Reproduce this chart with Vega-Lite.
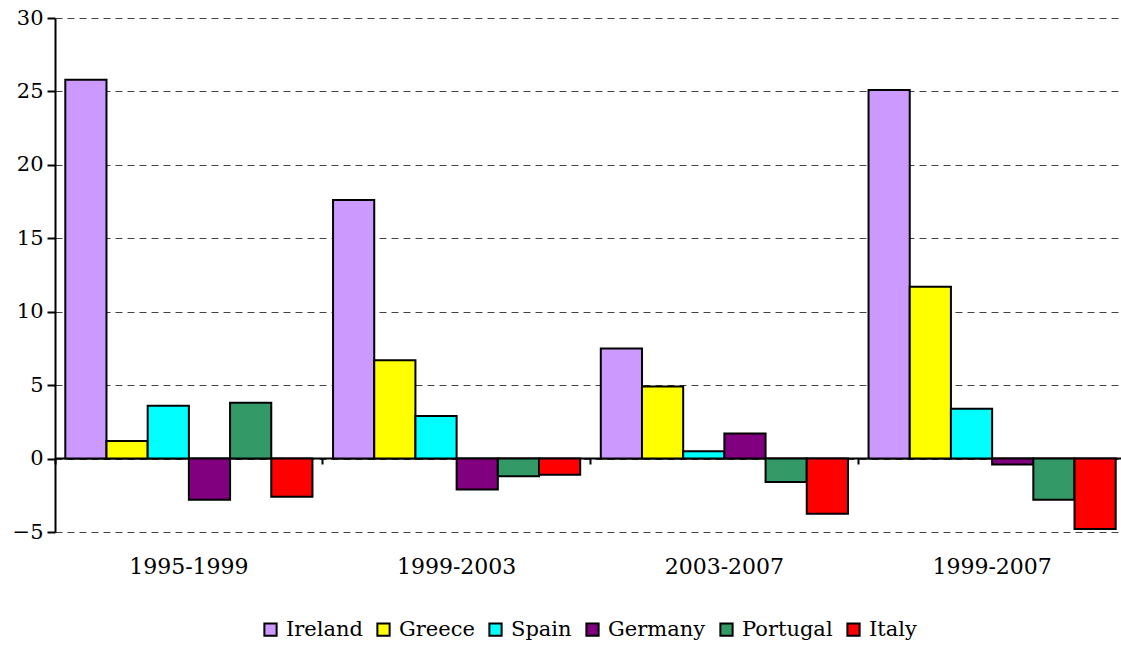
{
  "$schema": "https://vega.github.io/schema/vega-lite/v6.json",
  "autosize": "none",
  "width": 1071,
  "height": 514,
  "padding": {"left": 55, "top": 18, "right": 0, "bottom": 113},
  "background": "white",
  "config": {"view": {"stroke": null}, "font": "DejaVu Serif"},
  "data": {"values": [
    {"period": "1995-1999", "country": "Ireland", "value": 25.8},
    {"period": "1995-1999", "country": "Greece", "value": 1.2},
    {"period": "1995-1999", "country": "Spain", "value": 3.6},
    {"period": "1995-1999", "country": "Germany", "value": -2.8},
    {"period": "1995-1999", "country": "Portugal", "value": 3.8},
    {"period": "1995-1999", "country": "Italy", "value": -2.6},
    {"period": "1999-2003", "country": "Ireland", "value": 17.6},
    {"period": "1999-2003", "country": "Greece", "value": 6.7},
    {"period": "1999-2003", "country": "Spain", "value": 2.9},
    {"period": "1999-2003", "country": "Germany", "value": -2.1},
    {"period": "1999-2003", "country": "Portugal", "value": -1.2},
    {"period": "1999-2003", "country": "Italy", "value": -1.1},
    {"period": "2003-2007", "country": "Ireland", "value": 7.5},
    {"period": "2003-2007", "country": "Greece", "value": 4.9},
    {"period": "2003-2007", "country": "Spain", "value": 0.5},
    {"period": "2003-2007", "country": "Germany", "value": 1.7},
    {"period": "2003-2007", "country": "Portugal", "value": -1.6},
    {"period": "2003-2007", "country": "Italy", "value": -3.75},
    {"period": "1999-2007", "country": "Ireland", "value": 25.1},
    {"period": "1999-2007", "country": "Greece", "value": 11.7},
    {"period": "1999-2007", "country": "Spain", "value": 3.4},
    {"period": "1999-2007", "country": "Germany", "value": -0.4},
    {"period": "1999-2007", "country": "Portugal", "value": -2.8},
    {"period": "1999-2007", "country": "Italy", "value": -4.8}
  ]},
  "layer": [
    {
      "mark": {"type": "bar", "stroke": "black", "strokeWidth": 2},
      "encoding": {
        "x": {
          "field": "period", "type": "nominal",
          "sort": ["1995-1999", "1999-2003", "2003-2007", "1999-2007"],
          "scale": {"paddingInner": 0, "paddingOuter": 0},
          "axis": {
            "title": null, "labelAngle": 0, "offset": -74,
            "domain": true, "domainColor": "black", "domainWidth": 2,
            "ticks": true, "tickColor": "black", "tickWidth": 2, "tickSize": 6, "bandPosition": 0,
            "labelPadding": 92, "labelFontSize": 22, "labelColor": "black", "labelFont": "DejaVu Serif"
          }
        },
        "xOffset": {
          "field": "country", "type": "nominal",
          "sort": ["Ireland", "Greece", "Spain", "Germany", "Portugal", "Italy"],
          "scale": {"paddingInner": 0, "paddingOuter": 0.25}
        },
        "y": {
          "field": "value", "type": "quantitative",
          "scale": {"domain": [-5, 30], "nice": false, "zero": false},
          "axis": {
            "title": null, "values": [-5, 0, 5, 10, 15, 20, 25, 30],
            "domain": true, "domainColor": "black", "domainWidth": 2,
            "ticks": true, "tickColor": "black", "tickWidth": 2, "tickSize": 8,
            "labelFontSize": 21, "labelColor": "black", "labelPadding": 4, "labelFont": "DejaVu Serif",
            "grid": true, "gridColor": "#444", "gridDash": [7, 5], "gridWidth": 1.2
          }
        },
        "color": {
          "field": "country", "type": "nominal",
          "sort": ["Ireland", "Greece", "Spain", "Germany", "Portugal", "Italy"],
          "scale": {
            "domain": ["Ireland", "Greece", "Spain", "Germany", "Portugal", "Italy"],
            "range": ["#CC99FF", "#FFFF00", "#00FFFF", "#800080", "#339966", "#FF0000"]
          },
          "legend": {
            "title": null, "orient": "none", "direction": "horizontal",
            "legendX": 205, "legendY": 601,
            "symbolType": "square", "symbolSize": 150, "symbolStrokeColor": "black", "symbolStrokeWidth": 2,
            "symbolOpacity": 1,
            "labelFontSize": 21, "labelColor": "black", "labelFont": "DejaVu Serif",
            "columnPadding": 10, "labelOffset": 5
          }
        }
      }
    }
  ]
}
